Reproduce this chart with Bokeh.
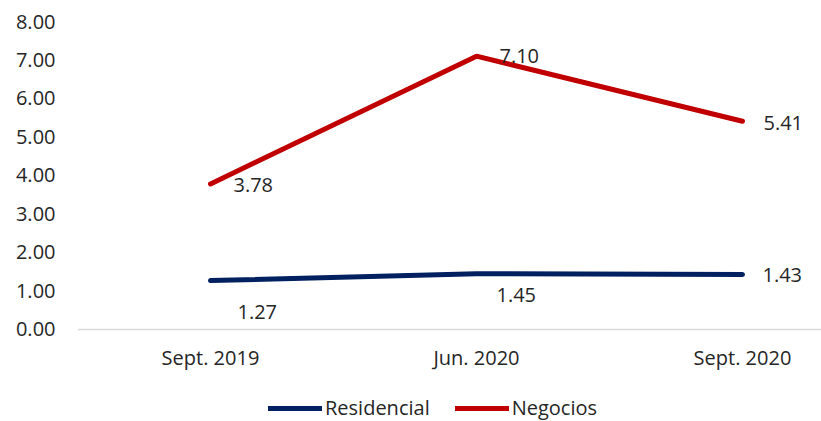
from bokeh.plotting import figure
from bokeh.models import (ColumnDataSource, FixedTicker, PrintfTickFormatter,
                          Legend, LegendItem, Range1d)
from bokeh.core.properties import value
from bokeh.embed import file_html
from bokeh.resources import INLINE

categories = ["Sept. 2019", "Jun. 2020", "Sept. 2020"]
residencial = [1.27, 1.45, 1.43]
negocios = [3.78, 7.10, 5.41]
y_ticks = [0, 1, 2, 3, 4, 5, 6, 7, 8]

# label placement (style only, screen pixels)
res_dx = [27, 20, 20]
res_dy = [31, 21, 1]
neg_dx = [23, 23, 21]
neg_dy = [1, 0, 2]

FONT = "Open Sans"
FS = "20px"
TXT = "#262626"
BLUE = "#002060"
RED = "#C00000"

xs = list(range(len(categories)))

# frame spans to the bottom of the figure; the x axis sits at y = 0
p = figure(width=821, height=421, output_backend="svg", toolbar_location=None,
           x_range=Range1d(-0.5, 2.297), y_range=Range1d(-2.39, 8),
           min_border_left=77, min_border_right=0, min_border_top=21,
           min_border_bottom=0)
p.outline_line_color = None
p.xgrid.visible = False
p.ygrid.visible = False
p.background_fill_color = "white"

src_r = ColumnDataSource(dict(x=xs, y=residencial, lab=[f"{v:.2f}" for v in residencial],
                              dx=res_dx, dy=res_dy))
src_n = ColumnDataSource(dict(x=xs, y=negocios, lab=[f"{v:.2f}" for v in negocios],
                              dx=neg_dx, dy=neg_dy))

r_res = p.line("x", "y", source=src_r, line_color=BLUE, line_width=5, line_cap="round")
r_neg = p.line("x", "y", source=src_n, line_color=RED, line_width=5, line_cap="round")

for src in (src_r, src_n):
    p.text("x", "y", text="lab", source=src, x_offset="dx", y_offset="dy",
           text_font=value(FONT), text_font_size=FS, text_color=TXT,
           text_align="left", text_baseline="middle")

# y axis
p.yaxis.ticker = FixedTicker(ticks=y_ticks)
p.yaxis.formatter = PrintfTickFormatter(format="%.2f")
p.yaxis.axis_line_color = None
p.yaxis.major_tick_line_color = None
p.yaxis.minor_tick_line_color = None
p.yaxis.major_tick_out = 0
p.yaxis.major_label_standoff = 22
p.yaxis.major_label_text_font = FONT
p.yaxis.major_label_text_font_size = FS
p.yaxis.major_label_text_color = TXT

# x axis, fixed at y = 0
p.xaxis.fixed_location = 0
p.xaxis.ticker = FixedTicker(ticks=xs)
p.xaxis.major_label_overrides = {i: c for i, c in zip(xs, categories)}
p.xaxis.axis_line_color = "#D9D9D9"
p.xaxis.axis_line_width = 1.5
p.xaxis.major_tick_line_color = None
p.xaxis.minor_tick_line_color = None
p.xaxis.major_tick_out = 0
p.xaxis.major_label_standoff = 15
p.xaxis.major_label_text_font = FONT
p.xaxis.major_label_text_font_size = FS
p.xaxis.major_label_text_color = TXT

legend = Legend(items=[LegendItem(label="Residencial", renderers=[r_res]),
                       LegendItem(label="Negocios", renderers=[r_neg])],
                orientation="horizontal", location=(191, 0),
                glyph_width=54, glyph_height=26, label_height=26,
                label_standoff=3, spacing=25,
                padding=0, margin=0, border_line_color=None,
                background_fill_alpha=0,
                label_text_font=FONT, label_text_font_size=FS, label_text_color=TXT)
p.add_layout(legend, "center")

open("out.html", "w").write(file_html(p, INLINE))
